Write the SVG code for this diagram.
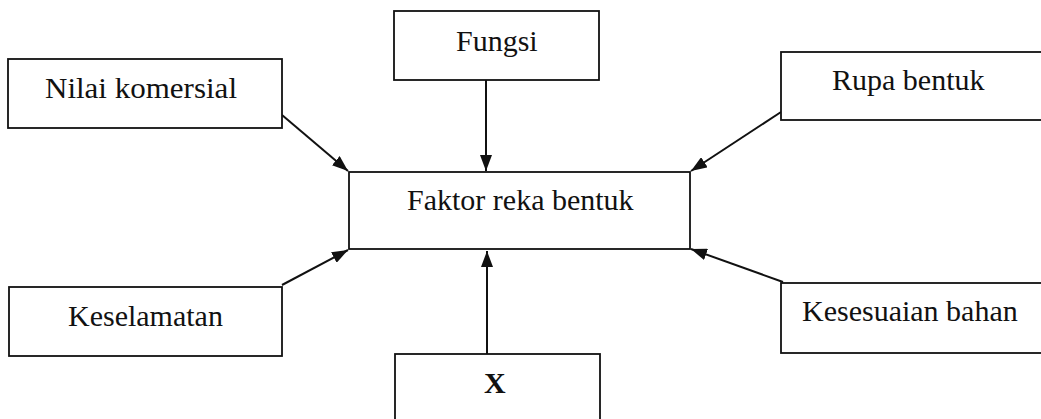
<svg xmlns="http://www.w3.org/2000/svg" width="1041" height="419" viewBox="0 0 1041 419">
<style>
.box{fill:#fff;stroke:#111;stroke-width:1.8}
.t{font-family:"Liberation Serif","Times New Roman",serif;font-size:30px;fill:#111}
.b{font-weight:bold}
.c{stroke:#111;stroke-width:2;fill:none;marker-end:url(#ah)}
</style>
<defs>
<marker id="ah" viewBox="0 0 16 12" refX="16" refY="6" markerWidth="16" markerHeight="12" markerUnits="userSpaceOnUse" orient="auto">
<path d="M0,0 L16,6 L0,12 Z" fill="#111"/>
</marker>
</defs>
<rect width="1041" height="419" fill="#fff"/>
<g id="connectors">
<line class="c" x1="282" y1="115" x2="348" y2="171"/>
<line class="c" x1="486" y1="80" x2="486" y2="171"/>
<line class="c" x1="781" y1="112" x2="691" y2="171"/>
<line class="c" x1="282" y1="285" x2="348" y2="250"/>
<line class="c" x1="487" y1="354" x2="487" y2="251"/>
<line class="c" x1="783" y1="282" x2="691" y2="249"/>
</g>
<g id="fungsi"><rect class="box" x="394" y="11" width="205" height="69"/><text class="t" x="456" y="51">Fungsi</text></g>
<g id="nilai"><rect class="box" x="8" y="59" width="274" height="69"/><text class="t" x="45" y="98" textLength="192" lengthAdjust="spacingAndGlyphs">Nilai komersial</text></g>
<g id="rupa"><rect class="box" x="781" y="52" width="262" height="68"/><text class="t" x="832" y="90">Rupa bentuk</text></g>
<g id="faktor"><rect class="box" x="349" y="172" width="341" height="77"/><text class="t" x="407" y="210">Faktor reka bentuk</text></g>
<g id="keselamatan"><rect class="box" x="9" y="287" width="273" height="69"/><text class="t" x="68" y="326">Keselamatan</text></g>
<g id="kesesuaian"><rect class="box" x="781" y="283" width="262" height="70"/><text class="t" x="802" y="321">Kesesuaian bahan</text></g>
<g id="x"><rect class="box" x="395" y="354" width="205" height="80"/><text class="t b" x="484" y="393">X</text></g>
</svg>
